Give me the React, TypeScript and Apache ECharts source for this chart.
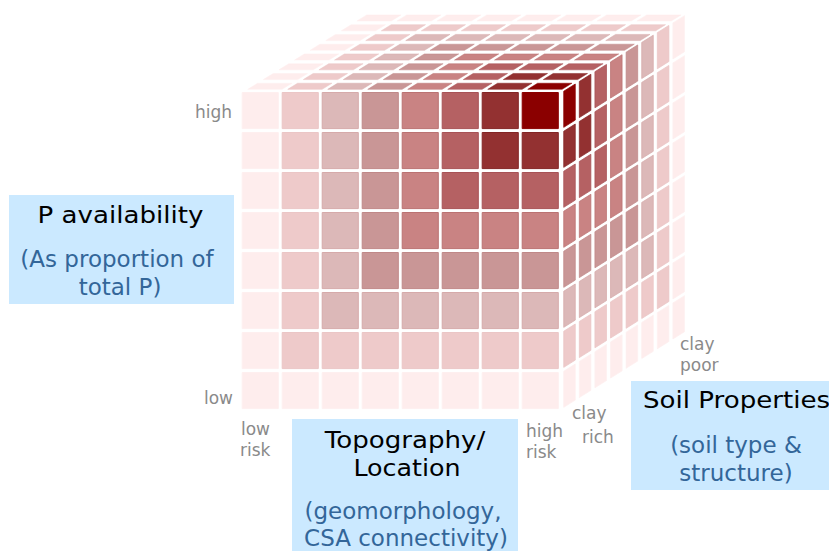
import React, { useEffect, useRef } from "react";
import * as echarts from "echarts";

// Level of P availability in each cell (0 = lightest, 7 = darkest).
// frontLevels: row from top, column from low to high risk.
const frontLevels = [
  [0, 1, 2, 3, 4, 5, 6, 7],
  [0, 1, 2, 3, 4, 5, 6, 6],
  [0, 1, 2, 3, 4, 5, 5, 5],
  [0, 1, 2, 3, 4, 4, 4, 4],
  [0, 1, 2, 3, 3, 3, 3, 3],
  [0, 1, 2, 2, 2, 2, 2, 2],
  [0, 1, 1, 1, 1, 1, 1, 1],
  [0, 0, 0, 0, 0, 0, 0, 0],
];
// sideLevels: row from top, column from clay rich (front) to clay poor (back).
const sideLevels = [
  [7, 6, 5, 4, 3, 2, 1, 0],
  [6, 6, 5, 4, 3, 2, 1, 0],
  [5, 5, 5, 4, 3, 2, 1, 0],
  [4, 4, 4, 4, 3, 2, 1, 0],
  [3, 3, 3, 3, 3, 2, 1, 0],
  [2, 2, 2, 2, 2, 2, 1, 0],
  [1, 1, 1, 1, 1, 1, 1, 0],
  [0, 0, 0, 0, 0, 0, 0, 0],
];
// topLevels: row from front to back, column from low to high risk.
const topLevels = [
  [0, 1, 2, 3, 4, 5, 6, 7],
  [0, 1, 2, 3, 4, 5, 6, 6],
  [0, 1, 2, 3, 4, 5, 5, 5],
  [0, 1, 2, 3, 4, 4, 4, 4],
  [0, 1, 2, 3, 3, 3, 3, 3],
  [0, 1, 2, 2, 2, 2, 2, 2],
  [0, 1, 1, 1, 1, 1, 1, 1],
  [0, 0, 0, 0, 0, 0, 0, 0],
];

const levelFill = ["#feeded", "#eecaca", "#dcb8b8", "#c99696", "#c98383", "#b56163", "#933131", "#8b0000"];
const levelEdge = ["#feefef", "#ebc6c6", "#d6aaaa", "#c08888", "#bb7272", "#a85256", "#842525", "#8b0000"];

const DX = 0.39; // oblique projection: horizontal shift per depth cell
const DY = 0.244; // oblique projection: vertical shift per depth cell
const N = 8;

const flat = (m: number[][]) => m.flatMap((row, r) => row.map((v, c) => [c, r, v]));

const cellStyle = (lv: number, w = 1) => ({ fill: levelFill[lv], stroke: levelEdge[lv], lineWidth: w });

const project = (x: number, y: number, d: number) => [x + DX * d, y + DY * d];

const renderFront = (_: any, api: any) => {
  const c = api.value(0), r = api.value(1);
  const top = N - r - 0.0125, bot = N - r - 0.915, l = c + 0.0125, h = c + 0.915;
  const pts = [[l, top], [h, top], [h, bot], [l, bot]].map((p) => api.coord(p));
  return { type: "polygon", shape: { points: pts }, style: cellStyle(api.value(2)) };
};

const renderSide = (_: any, api: any) => {
  const d = api.value(0), r = api.value(1);
  const top = N - r - 0.0125, bot = N - r - 0.915, a = d + 0.13, b = d + 0.87;
  const pts = [
    project(N, top, a),
    project(N, top, b),
    project(N, bot, b),
    project(N, bot, a),
  ].map((p) => api.coord(p));
  return { type: "polygon", shape: { points: pts }, style: cellStyle(api.value(2), 0.75) };
};

const renderTop = (_: any, api: any) => {
  const c = api.value(0), d = api.value(1);
  const a = d + 0.27, b = d + 0.9, l = c + 0.045, h = c + 0.905;
  const pts = [
    project(l, N, a),
    project(h, N, a),
    project(h, N, b),
    project(l, N, b),
  ].map((p) => api.coord(p));
  return { type: "polygon", shape: { points: pts }, style: cellStyle(api.value(2), 0.5) };
};

const GREY = "#8a8a8a";
const BLUE = "#336699";
const BLACK = "#000000";
const BOX = "#cbe9ff";
const FONT = '"DejaVu Sans", Verdana, sans-serif';

const label = (text: string, x: number, y: number, fill: string, size: number, align: string, scaleX = 1) => ({
  type: "text",
  x,
  y,
  scaleX,
  z: 10,
  style: { text, fill, font: `${size}px ${FONT}`, textAlign: align, textVerticalAlign: "middle" },
});
const box = (x: number, y: number, width: number, height: number) => ({
  type: "rect",
  shape: { x, y, width, height },
  z: 5,
  style: { fill: BOX },
});

export default function App() {
  const ref = useRef<HTMLDivElement>(null);
  useEffect(() => {
    document.body.style.margin = "0";
    const chart = echarts.init(ref.current!, undefined, { renderer: "svg" });
    chart.setOption({
      animation: false,
      backgroundColor: "#ffffff",
      grid: { left: 241.7, top: 92, width: 320, height: 320 },
      xAxis: { type: "value", min: 0, max: N, show: false },
      yAxis: { type: "value", min: 0, max: N, show: false },
      series: [
        { type: "custom", name: "Top", renderItem: renderTop, data: flat(topLevels), silent: true },
        { type: "custom", name: "Side", renderItem: renderSide, data: flat(sideLevels), silent: true },
        { type: "custom", name: "Front", renderItem: renderFront, data: flat(frontLevels), silent: true },
      ],
      graphic: [
        box(9, 195, 225, 109),
        box(292, 419, 226, 132),
        box(631, 381, 198, 109),
        label("P availability", 120.5, 215, BLACK, 23.5, "center", 1.11),
        label("(As proportion of", 117, 259, BLUE, 23, "center"),
        label("total P)", 120, 287, BLUE, 23, "center"),
        label("Topography/", 405, 440, BLACK, 23.5, "center", 1.11),
        label("Location", 407, 468, BLACK, 23.5, "center", 1.08),
        label("(geomorphology,", 403, 511, BLUE, 23, "center"),
        label("CSA connectivity)", 406, 537.5, BLUE, 23, "center"),
        label("Soil Properties", 643, 400, BLACK, 23.5, "left", 1.11),
        label("(soil type &", 736, 445, BLUE, 23, "center"),
        label("structure)", 736, 473, BLUE, 23, "center"),
        label("high", 232, 112, GREY, 17, "right"),
        label("low", 233, 398, GREY, 17, "right"),
        label("low", 241, 429, GREY, 17, "left"),
        label("risk", 240, 450, GREY, 17, "left"),
        label("high", 526, 431, GREY, 17, "left"),
        label("risk", 526, 452, GREY, 17, "left"),
        label("clay", 572, 413, GREY, 17, "left"),
        label("rich", 582, 437, GREY, 17, "left"),
        label("clay", 680, 344, GREY, 17, "left"),
        label("poor", 680, 365, GREY, 17, "left"),
      ],
    });
    return () => chart.dispose();
  }, []);
  return <div ref={ref} style={{ position: "absolute", left: 0, top: 0, width: 829, height: 551 }} />;
}
